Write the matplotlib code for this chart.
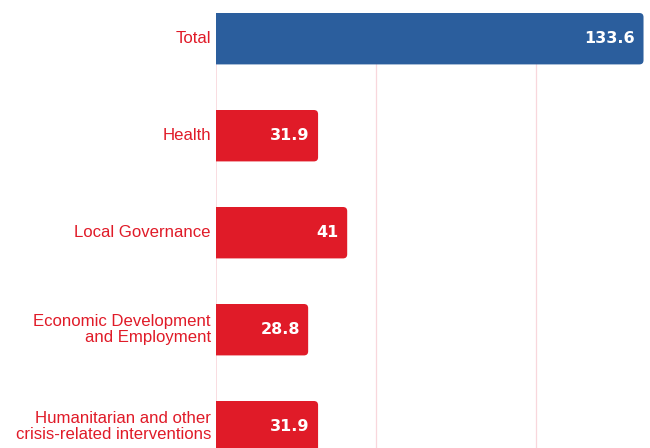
import matplotlib.pyplot as plt
from matplotlib.patches import FancyBboxPatch

categories = ["Total", "Health", "Local Governance",
              "Economic Development\nand Employment",
              "Humanitarian and other\ncrisis-related interventions"]
values = [133.6, 31.9, 41, 28.8, 31.9]
value_labels = ["133.6", "31.9", "41", "28.8", "31.9"]
bar_colors = ["#2b5e9d", "#e01b28", "#e01b28", "#e01b28", "#e01b28"]

W, H = 650, 448
fig = plt.figure(figsize=(W / 100, H / 100), dpi=100)
# axes from x=216px to the right edge, top at 13px, bottom past the image
left, top = 216, 13
ax = fig.add_axes([left / W, 0, 1 - left / W, 1 - top / H])

bar_h = 0.53
px_per_y = 97.0
x_max = (W - left) / 3.2
ax.set_xlim(0, x_max)
y_top = -bar_h / 2
y_bot = y_top + (H - top) / px_per_y
ax.set_ylim(y_bot, y_top)

for x in [50, 100]:
    ax.axvline(x, color="#f8d7dc", lw=0.9, zorder=0)
ax.axvline(0, color="#f8d7dc", lw=1.2, zorder=0)

aspect = 3.2 / px_per_y
for i, (v, c, lab) in enumerate(zip(values, bar_colors, value_labels)):
    p = FancyBboxPatch((-5, i - bar_h / 2), v + 5, bar_h,
                       boxstyle="round,pad=0,rounding_size=1.3",
                       mutation_aspect=aspect, fc=c, ec="none", zorder=2)
    ax.add_patch(p)
    ax.text(v - 2.6, i, lab, ha="right", va="center", color="white",
            fontsize=11.5, fontweight="bold", family="DejaVu Sans", zorder=3)
    ax.text(-1.6, i, categories[i], ha="right", va="center", color="#e01b28",
            fontsize=12.1, family="Liberation Sans", linespacing=1.08,
            clip_on=False)

ax.set_xticks([])
ax.set_yticks([])
for s in ax.spines.values():
    s.set_visible(False)

fig.savefig("out.png", dpi=100)
